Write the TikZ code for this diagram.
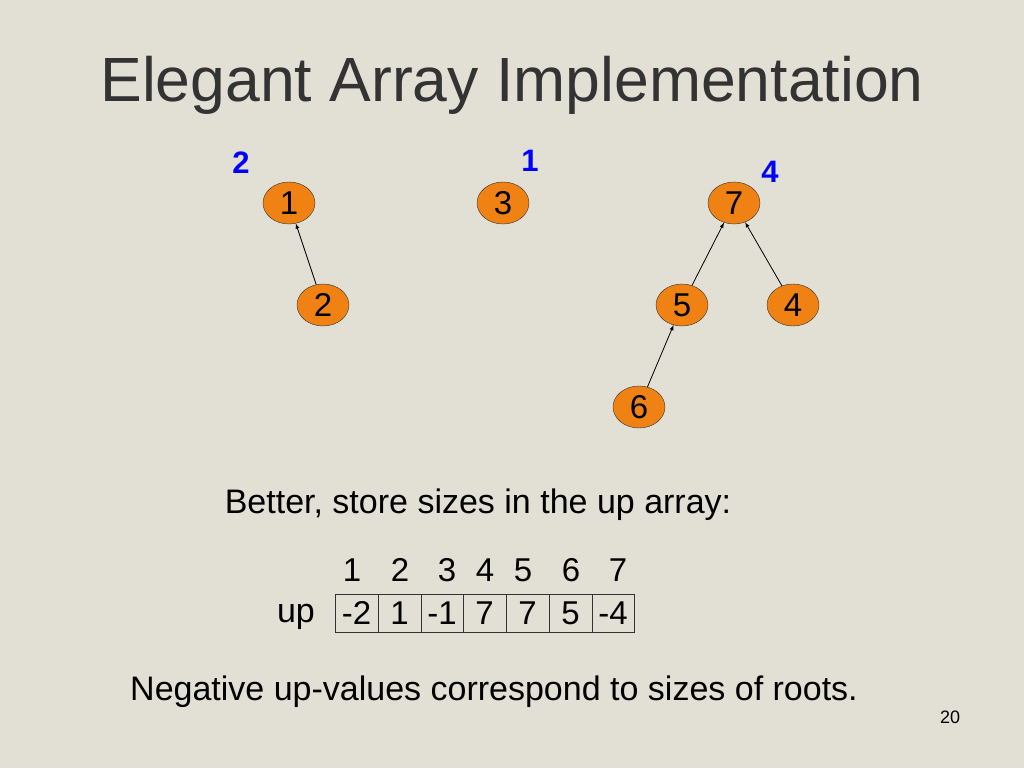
\documentclass[tikz,border=0pt]{standalone}
\usepackage{fontspec}
\setmainfont{Liberation Sans}
\usetikzlibrary{shapes.geometric}
\definecolor{bg}{RGB}{226,223,212}
\definecolor{nodeor}{RGB}{240,130,20}
\begin{document}
\begin{tikzpicture}[x=1pt,y=-1pt,
  vtx/.style={ellipse,draw=black!80,fill=nodeor,minimum width=52pt,minimum height=42pt,inner sep=0pt,font=\fontsize{33}{33}\selectfont},
  blu/.style={text=blue,font=\bfseries\fontsize{31}{31}\selectfont},
  txt/.style={font=\fontsize{34}{34}\selectfont},
  cellh/.style={font=\fontsize{33}{33}\selectfont},
  edge/.style={-latex,black,line width=0.8pt}]
\fill[bg] (0,0) rectangle (1024,768);
\useasboundingbox (0,0) rectangle (1024,768);
\node[font=\fontsize{62.5}{62.5}\selectfont,text=black!80] (title) at (512,85) {Elegant Array Implementation};
\foreach \n/\x/\y in {1/289/203,3/503/203,7/734/203,2/323/305,5/682/305,4/793/305,6/639/407}{
  \node[vtx] (n\n) at (\x,\y) {\n};
}
\draw[edge] (n2) -- (n1);
\draw[edge] (n5) -- (n7);
\draw[edge] (n4) -- (n7);
\draw[edge] (n6) -- (n5);
\node[blu] (b1) at (241,163) {2};
\node[blu] (b2) at (530,161) {1};
\node[blu] (b3) at (770,172) {4};
\node[txt] (better) at (478,505) {Better, store sizes in the up array:};
\foreach \i/\x/\v/\xl/\xr in {1/352/-2/335/378,2/400/1/378/421,3/447/-1/421/463,4/485/7/463/506,5/523/7/506/549,6/571/5/549/592,7/618/-4/592/634}{
  \node[cellh] (h\i) at (\x,570) {\i};
  \node[draw=black!80,line width=0.8pt,minimum width={\xr-\xl},minimum height=38pt,inner sep=0pt,cellh] (c\i) at ({(\xl+\xr)/2},613) {\v};
}
\node[txt] (up) at (296,617) {up};
\node[txt] (neg) at (494,692) {Negative up-values correspond to sizes of roots.};
\node[font=\fontsize{18}{18}\selectfont] (pg) at (950,717) {20};
\end{tikzpicture}
\end{document}
